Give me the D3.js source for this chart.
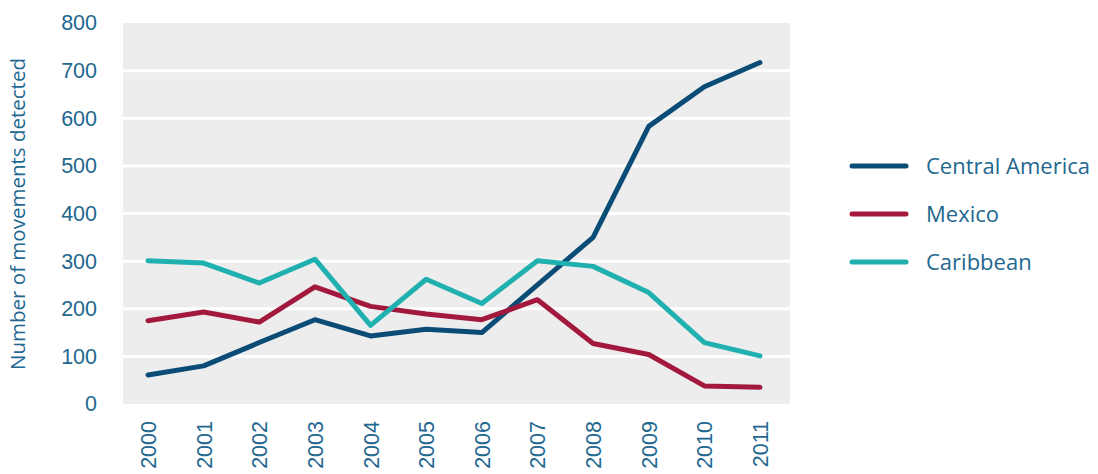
<!DOCTYPE html>
<html>
<head>
<meta charset="utf-8">
<script src="https://cdn.jsdelivr.net/npm/d3@7"></script>
<style>
  body { margin: 0; background: #fff; }
  svg { display: block; font-family: "Open Sans", "Noto Sans", sans-serif; }
  .lbl { fill: #22678f; }
</style>
</head>
<body>
<div id="chart"></div>
<script>
const years = ["2000", "2001", "2002", "2003", "2004", "2005", "2006", "2007", "2008", "2009", "2010", "2011"];
const centralAmerica = [61, 80, 129, 177, 143, 157, 150, 250, 350, 583, 666, 717];
const mexico = [175, 193, 172, 246, 205, 189, 177, 219, 127, 104, 38, 35];
const caribbean = [301, 296, 254, 304, 165, 262, 211, 301, 289, 234, 129, 101];
const yTicks = [0, 100, 200, 300, 400, 500, 600, 700, 800];

const series = [
  { name: "Central America", values: centralAmerica, color: "#0b4c77" },
  { name: "Mexico", values: mexico, color: "#a3193d" },
  { name: "Caribbean", values: caribbean, color: "#20b0b0" }
];

const width = 1098, height = 474;

const svg = d3.select("#chart").append("svg")
  .attr("width", width)
  .attr("height", height);

const x = d3.scalePoint().domain(years).range([148, 760]);
const y = d3.scaleLinear().domain([0, 800]).range([404, 23]);

// plot background
svg.append("rect")
  .attr("x", 123).attr("y", y(800))
  .attr("width", 790 - 123).attr("height", y(0) - y(800))
  .attr("fill", "#ededed");

// white gridlines
svg.selectAll(".grid")
  .data(yTicks.filter(d => d > 0 && d < 800))
  .join("line")
  .attr("x1", 123).attr("x2", 790)
  .attr("y1", d => y(d)).attr("y2", d => y(d))
  .attr("stroke", "#fff")
  .attr("stroke-width", 3);

// y axis labels
const yAxis = svg.append("g")
  .attr("transform", "translate(97,0)")
  .call(d3.axisLeft(y).tickValues(yTicks).tickSize(0).tickPadding(0));
yAxis.select(".domain").remove();
yAxis.selectAll("text")
  .attr("class", "lbl")
  .attr("font-size", 21.5)
  .attr("fill", null);

// x axis labels (rotated)
const xAxis = svg.append("g")
  .attr("transform", "translate(0,421)")
  .call(d3.axisBottom(x).tickSize(0).tickPadding(0));
xAxis.select(".domain").remove();
xAxis.selectAll("text")
  .attr("class", "lbl")
  .attr("font-size", 21.5)
  .attr("fill", null)
  .attr("transform", "rotate(-90)")
  .attr("text-anchor", "end")
  .attr("x", 0)
  .attr("y", 0)
  .attr("dy", "0.35em");

// axis title
svg.append("text")
  .attr("class", "lbl")
  .attr("font-size", 20.5)
  .attr("text-anchor", "middle")
  .attr("transform", "translate(25,214) rotate(-90)")
  .text("Number of movements detected");

// lines
const line = d3.line()
  .x((d, i) => x(years[i]))
  .y(d => y(d));

svg.selectAll(".series")
  .data(series)
  .join("path")
  .attr("d", d => line(d.values))
  .attr("fill", "none")
  .attr("stroke", d => d.color)
  .attr("stroke-width", 5)
  .attr("stroke-linejoin", "round")
  .attr("stroke-linecap", "round");

// legend
const legend = svg.selectAll(".legend")
  .data(series)
  .join("g")
  .attr("transform", (d, i) => `translate(852,${166 + i * 48})`);

legend.append("line")
  .attr("x1", 0).attr("x2", 54)
  .attr("stroke", d => d.color)
  .attr("stroke-width", 5)
  .attr("stroke-linecap", "round");

legend.append("text")
  .attr("class", "lbl")
  .attr("x", 74)
  .attr("dy", "0.35em")
  .attr("font-size", 22)
  .text(d => d.name);
</script>
</body>
</html>
